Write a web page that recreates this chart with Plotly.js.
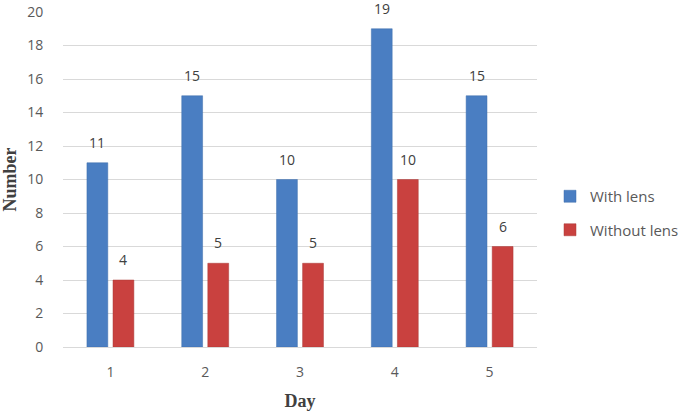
<!DOCTYPE html>
<html>
<head>
<meta charset="utf-8">
<script src="https://cdn.plot.ly/plotly-3.0.1.min.js"></script>
<style>html,body{margin:0;padding:0;background:#fff;}#chart{width:685px;height:418px;}</style>
</head>
<body>
<div id="chart"></div>
<script>
const days = [1, 2, 3, 4, 5];
const dayLabels = ['1', '2', '3', '4', '5'];
const withLens = [11, 15, 10, 19, 15];
const withoutLens = [4, 5, 5, 10, 6];
const seriesNames = ['With lens', 'Without lens'];
const colors = ['#4A7EC2', '#C9413F'];

const font = {family: 'Open Sans, sans-serif', size: 14, color: '#595959'};
const offset = 0.137;

const annotations = [];
days.forEach((d, i) => {
  annotations.push({x: d - offset, y: withLens[i], text: String(withLens[i]), xref: 'x', yref: 'y',
    showarrow: false, yanchor: 'bottom', yshift: 9, font: {family: font.family, size: 14, color: '#404040'}});
  annotations.push({x: d + offset, y: withoutLens[i], text: String(withoutLens[i]), xref: 'x', yref: 'y',
    showarrow: false, yanchor: 'bottom', yshift: 9, font: {family: font.family, size: 14, color: '#404040'}});
});

const data = [
  {type: 'bar', x: days, y: withLens, name: seriesNames[0], legendgroup: 'a',
   marker: {color: colors[0], line: {color: '#3F6FAD', width: 0.5}}, hoverinfo: 'none'},
  {type: 'bar', x: days, y: withoutLens, name: seriesNames[1], legendgroup: 'b',
   marker: {color: colors[1], line: {color: '#A83836', width: 0.5}}, hoverinfo: 'none'}
];

const layout = {
  width: 685, height: 418,
  margin: {l: 63, r: 148, t: 12, b: 71},
  paper_bgcolor: '#fff', plot_bgcolor: '#fff',
  barmode: 'group', bargap: 0.45, bargroupgap: 0.2,
  font: font,
  showlegend: true,
  legend: {xref: 'container', yref: 'container', x: 550 / 685, y: (418 - 213) / 418, xanchor: 'left', yanchor: 'middle', tracegroupgap: 11,
    font: {family: font.family, size: 15, color: '#595959'}, bgcolor: 'rgba(0,0,0,0)'},
  xaxis: {
    type: 'linear', range: [0.5, 5.5], tickvals: days, ticktext: dayLabels,
    showgrid: false, zeroline: false, showline: true, linecolor: '#D9D9D9', linewidth: 1,
    ticks: 'outside', ticklen: 12, tickcolor: 'rgba(0,0,0,0)',
    tickfont: font,
    title: {text: 'Day', standoff: 14, font: {family: 'Liberation Serif, Times New Roman, serif', size: 18, color: '#404040', weight: 'bold'}}
  },
  yaxis: {
    range: [0, 20], dtick: 2, showgrid: true, gridcolor: '#D9D9D9', gridwidth: 1,
    zeroline: false, showline: false,
    ticks: 'outside', ticklen: 16, tickcolor: 'rgba(0,0,0,0)',
    tickfont: font,
    title: {text: 'Number', standoff: 5, font: {family: 'Liberation Serif, Times New Roman, serif', size: 18, color: '#404040', weight: 'bold'}}
  },
  annotations: annotations
};

Plotly.newPlot('chart', data, layout, {displayModeBar: false, staticPlot: true});
</script>
</body>
</html>
